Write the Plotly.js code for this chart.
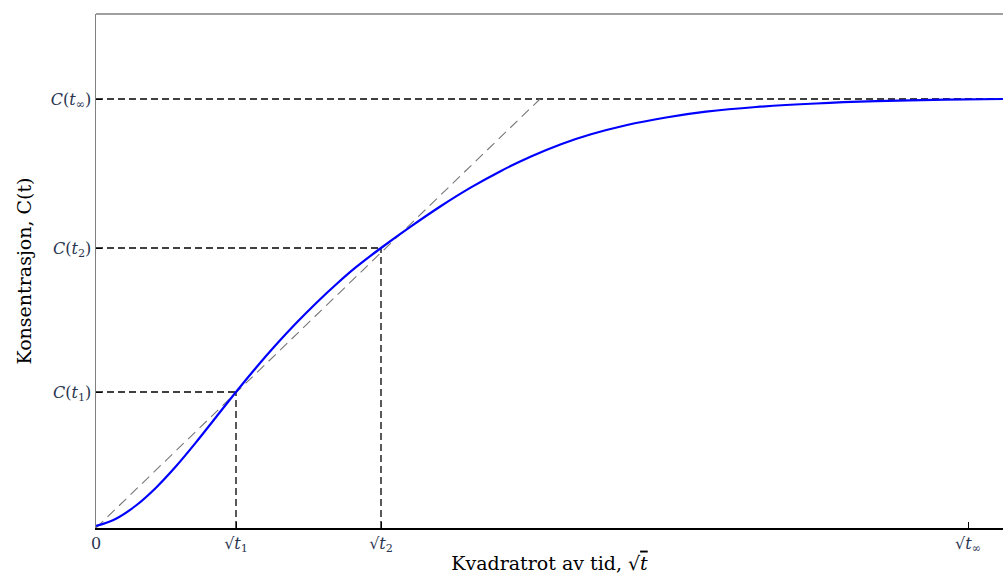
<!DOCTYPE html>
<html>
<head>
<meta charset="utf-8">
<script src="https://cdn.plot.ly/plotly-3.0.1.min.js"></script>
<style>html,body{margin:0;padding:0;background:#fff;}#chart{width:1003px;height:576px;}</style>
</head>
<body>
<div id="chart"></div>
<script>
// Curve: concentration vs square root of time
const sqrtT = [0, 0.2, 0.4, 0.6, 0.8, 1.0, 1.2, 1.4, 1.6, 1.8, 2.0, 2.2, 2.4, 2.6, 2.85, 3.15, 3.45, 3.75, 4.05, 4.35, 4.65, 4.95, 5.3, 5.7, 6.1, 6.6, 7.2, 7.8, 8.5, 9.07];
const conc  = [0.02, 0.093, 0.225, 0.403, 0.617, 0.856, 1.108, 1.36, 1.603, 1.832, 2.047, 2.248, 2.435, 2.608, 2.80, 3.016, 3.22, 3.406, 3.571, 3.715, 3.838, 3.937, 4.028, 4.105, 4.163, 4.21, 4.245, 4.268, 4.284, 4.29];

// Marked points
const xMarks = [1.40, 2.85, 8.72];
const yMarks = [1.36, 2.80, 4.29];
const xTickVals = [0, 1.40, 2.85, 8.72];
const xTickText = ['0', '√<i>t</i><sub>1</sub>', '√<i>t</i><sub>2</sub>', '√<i>t</i><sub>∞</sub>'];
const yTickVals = [1.36, 2.80, 4.29];
const yTickText = ['<i>C</i>(<i>t</i><sub>1</sub>)', '<i>C</i>(<i>t</i><sub>2</sub>)', '<i>C</i>(<i>t</i><sub>∞</sub>)'];
// Tangent line end (meets C(t∞))
const tangentX = [0, 4.44];
const tangentY = [0, 4.29];
const xMax = 9.07, yMax = 5.14;

const traces = [];
const dashBlack = {color: '#000', width: 1.3, dash: '7px,4px'};
for (let i = 0; i < 2; i++) {
  traces.push({x: [0, xMarks[i]], y: [yMarks[i], yMarks[i]], mode: 'lines', line: dashBlack, hoverinfo: 'skip'});
  traces.push({x: [xMarks[i], xMarks[i]], y: [0, yMarks[i]], mode: 'lines', line: dashBlack, hoverinfo: 'skip'});
}
traces.push({x: [0, xMax], y: [yMarks[2], yMarks[2]], mode: 'lines', line: dashBlack, hoverinfo: 'skip'});
traces.push({x: tangentX, y: tangentY, mode: 'lines', line: {color: '#777', width: 1.1, dash: '10px,6px'}, hoverinfo: 'skip'});
traces.push({x: sqrtT, y: conc, mode: 'lines', line: {color: '#0000ff', width: 2.2, shape: 'spline', smoothing: 1}});

const serif = 'DejaVu Serif, Liberation Serif, serif';
const layout = {
  width: 1003, height: 576,
  margin: {l: 96, r: 0, t: 14, b: 48},
  paper_bgcolor: '#fff', plot_bgcolor: '#fff',
  showlegend: false,
  font: {family: serif, color: '#000'},
  xaxis: {
    range: [0, xMax], tickmode: 'array', tickvals: xTickVals, ticktext: xTickText,
    ticks: 'inside', ticklen: 6, tickcolor: '#000', showgrid: false, zeroline: false,
    showline: true, linecolor: '#000', linewidth: 1.5,
    tickfont: {family: serif, size: 16, color: '#2a3550'},
    title: {text: 'Kvadratrot av tid, √<span style="text-decoration:overline"><i>t</i></span>', font: {family: serif, size: 19, color: '#000'}, standoff: 2}
  },
  yaxis: {
    range: [0, yMax], tickmode: 'array', tickvals: yTickVals, ticktext: yTickText,
    ticks: 'inside', ticklen: 6, tickcolor: '#000', showgrid: false, zeroline: false,
    showline: true, linecolor: '#808080', linewidth: 1.5,
    tickfont: {family: serif, size: 16, color: '#2a3550'},
    title: {text: 'Konsentrasjon, C(t)', font: {family: serif, size: 19, color: '#000'}, standoff: 14}
  },
  shapes: [
    {type: 'line', xref: 'paper', yref: 'paper', x0: 0, x1: 1, y0: 1, y1: 1, line: {color: '#808080', width: 1.5}}
  ]
};
Plotly.newPlot('chart', traces, layout, {displayModeBar: false, staticPlot: true});
</script>
</body>
</html>
